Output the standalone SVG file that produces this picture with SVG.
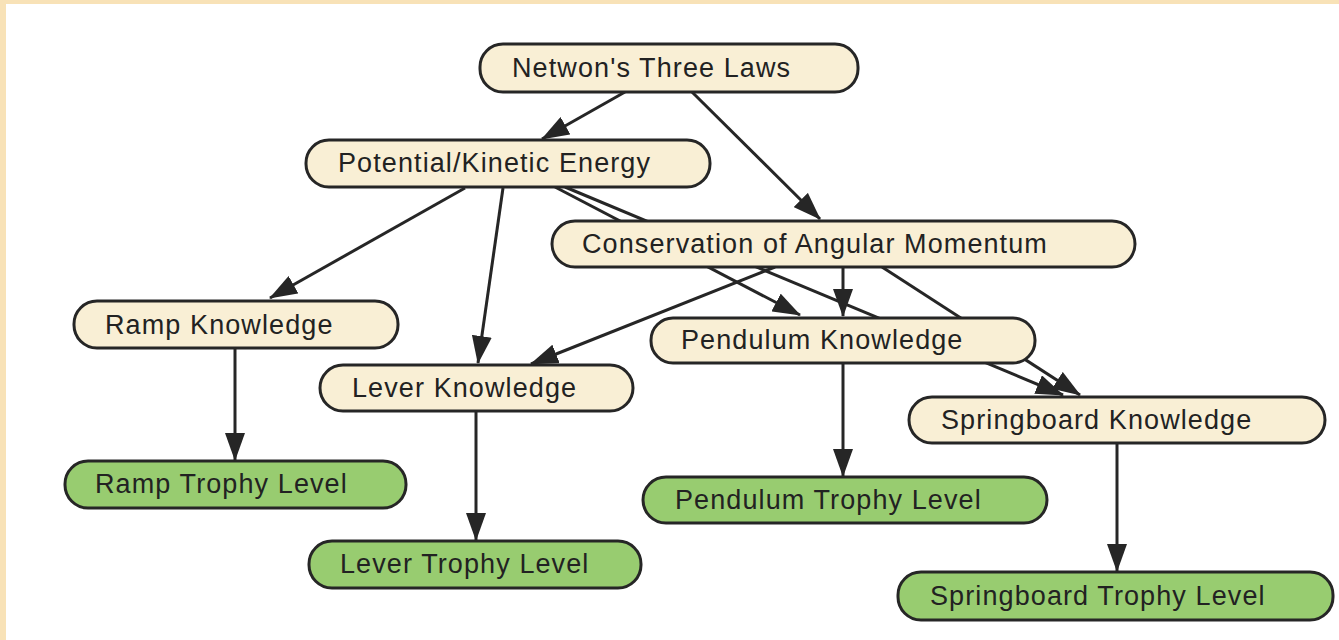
<svg xmlns="http://www.w3.org/2000/svg" width="1339" height="640" viewBox="0 0 1339 640">
<defs>
<style>
.k rect{fill:#F9EFD5;stroke:#262626;stroke-width:3}
.t rect{fill:#98CC70;stroke:#262626;stroke-width:3}
text{font-family:"Liberation Sans",Arial,sans-serif;font-size:27px;letter-spacing:1.1px;fill:#222}
.e line{stroke:#262626;stroke-width:3;marker-end:url(#ah)}
</style>
<marker id="ah" markerUnits="userSpaceOnUse" markerWidth="28" markerHeight="20" viewBox="0 0 28 20" refX="27" refY="10" orient="auto">
<path d="M0,0 L28,10 L0,20 z" fill="#262626"/>
</marker>
</defs>
<rect x="0" y="0" width="1339" height="640" fill="#fff"/>
<rect x="0" y="0" width="1339" height="4" fill="#F8E2B7"/>
<rect x="0" y="0" width="6" height="640" fill="#F8E2B7"/>
<g id="connectors" class="e">
<line x1="625" y1="92" x2="542" y2="139"/>
<line x1="692" y1="92" x2="820" y2="219"/>
<line x1="465" y1="188" x2="270" y2="298"/>
<line x1="503" y1="188" x2="478" y2="363"/>
<line x1="555" y1="187" x2="800" y2="315"/>
<line x1="565" y1="187" x2="1063" y2="395"/>
<line x1="775" y1="267" x2="531" y2="364"/>
<line x1="843" y1="267" x2="843" y2="316"/>
<line x1="882" y1="267" x2="1080" y2="395"/>
<line x1="235" y1="348" x2="235" y2="460"/>
<line x1="476" y1="411" x2="476" y2="540"/>
<line x1="843" y1="363" x2="843" y2="476"/>
<line x1="1117" y1="443" x2="1117" y2="571"/>
</g>
<g id="n1" class="k"><rect x="480" y="44" width="378" height="48" rx="23"/><text x="512" y="77">Netwon's Three Laws</text></g>
<g id="n2" class="k"><rect x="306" y="140" width="404" height="47" rx="23"/><text x="338" y="172">Potential/Kinetic Energy</text></g>
<g id="n3" class="k"><rect x="552" y="221" width="583" height="46" rx="23"/><text x="582" y="253">Conservation of Angular Momentum</text></g>
<g id="n4" class="k"><rect x="74" y="301" width="324" height="47" rx="23"/><text x="105" y="334">Ramp Knowledge</text></g>
<g id="n5" class="k"><rect x="320" y="365" width="313" height="46" rx="23"/><text x="352" y="397">Lever Knowledge</text></g>
<g id="n6" class="k"><rect x="651" y="318" width="384" height="45" rx="22"/><text x="681" y="349">Pendulum Knowledge</text></g>
<g id="n7" class="k"><rect x="909" y="397" width="416" height="46" rx="23"/><text x="941" y="429">Springboard Knowledge</text></g>
<g id="n8" class="t"><rect x="65" y="461" width="341" height="47" rx="23"/><text x="95" y="493">Ramp Trophy Level</text></g>
<g id="n9" class="t"><rect x="309" y="541" width="332" height="47" rx="23"/><text x="340" y="573">Lever Trophy Level</text></g>
<g id="n10" class="t"><rect x="643" y="477" width="404" height="46" rx="23"/><text x="675" y="509">Pendulum Trophy Level</text></g>
<g id="n11" class="t"><rect x="898" y="572" width="435" height="48" rx="23"/><text x="930" y="605">Springboard Trophy Level</text></g>
</svg>
